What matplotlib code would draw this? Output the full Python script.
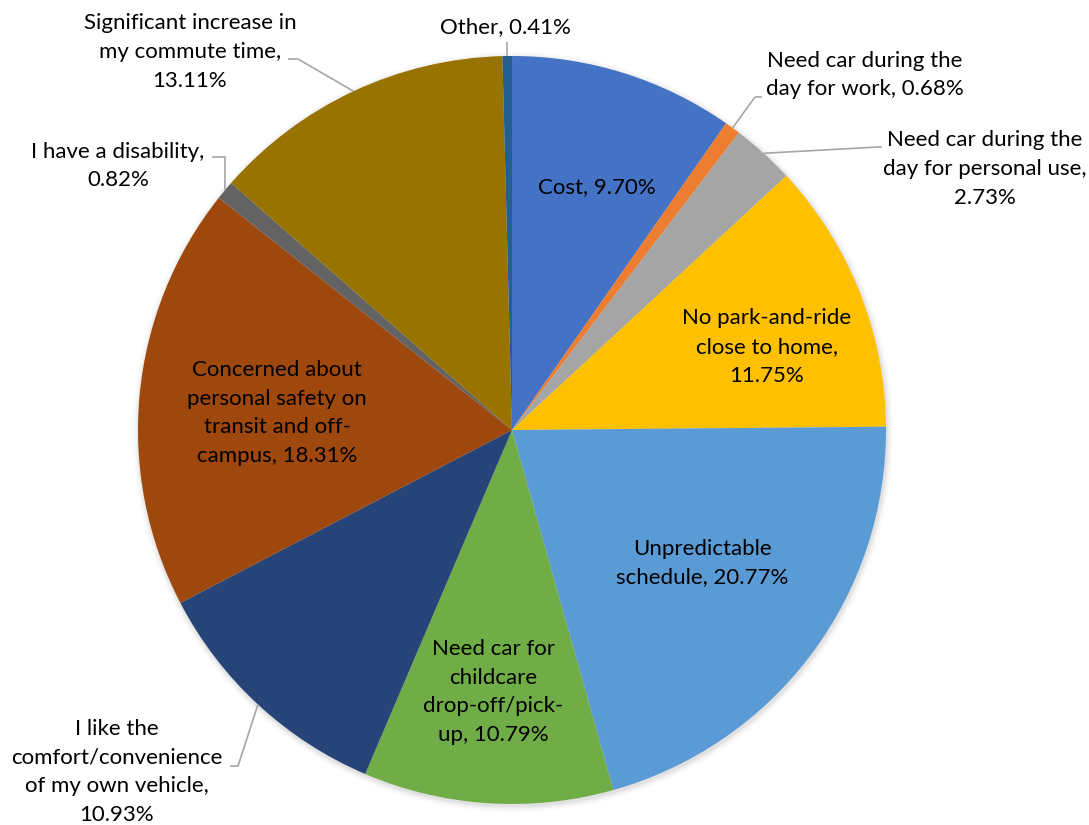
import numpy as np
import matplotlib
matplotlib.use("Agg")
import matplotlib.pyplot as plt

# Reasons for driving alone (share of responses, %)
categories = [
    "Cost",
    "Need car during the day for work",
    "Need car during the day for personal use",
    "No park-and-ride close to home",
    "Unpredictable schedule",
    "Need car for childcare drop-off/pick-up",
    "I like the comfort/convenience of my own vehicle",
    "Concerned about personal safety on transit and off-campus",
    "I have a disability",
    "Significant increase in my commute time",
    "Other",
]
values = [9.70, 0.68, 2.73, 11.75, 20.77, 10.79, 10.93, 18.31, 0.82, 13.11, 0.41]
label_texts = [
    "Cost, 9.70%",
    "Need car during the\nday for work, 0.68%",
    "Need car during the\nday for personal use,\n2.73%",
    "No park-and-ride\nclose to home,\n11.75%",
    "Unpredictable\nschedule, 20.77%",
    "Need car for\nchildcare\ndrop-off/pick-\nup, 10.79%",
    "I like the\ncomfort/convenience\nof my own vehicle,\n10.93%",
    "Concerned about\npersonal safety on\ntransit and off-\ncampus, 18.31%",
    "I have a disability,\n0.82%",
    "Significant increase in\nmy commute time,\n13.11%",
    "Other, 0.41%",
]
colors = ["#4472C4", "#ED7D31", "#A5A5A5", "#FFC000", "#5B9BD5", "#70AD47",
          "#264478", "#9E480E", "#636363", "#997300", "#255E91"]

W, H = 1089, 825
fig = plt.figure(figsize=(W / 100, H / 100), dpi=100)
ax = fig.add_axes([0, 0, 1, 1])

cx, cy, R = 512, 430, 374

# Soft drop shadow behind the pie
for i, a in enumerate(np.linspace(0.035, 0.005, 6)):
    ax.add_patch(plt.Circle((cx + 1, cy + 2), R + 1 + i * 1.2, color="black",
                            alpha=a, lw=0, zorder=0))

# Pie drawn in image coordinates (y grows downward): starting at -90 deg
# points to 12 o'clock, and counter-clockwise in data reads clockwise.
wedges, _ = ax.pie(values, colors=colors, startangle=-90, counterclock=True,
                   center=(cx, cy), radius=R, frame=True,
                   wedgeprops=dict(linewidth=0))
ax.set_xlim(0, W)
ax.set_ylim(H, 0)
ax.set_aspect("equal")
ax.axis("off")

font = dict(family=["Lato", "DejaVu Sans"], fontsize=16, color="black",
            linespacing=1.55)

cum = np.cumsum([0] + values[:-1])
mid_frac = [(c + v / 2) / 100 for c, v in zip(cum, values)]


def edge_point(frac, r=R):
    ang = 2 * np.pi * frac
    return cx + r * np.sin(ang), cy - r * np.cos(ang)


# Labels inside slices (index -> centre position)
inside = {0: (597, 187), 3: (767, 347), 4: (702, 563), 5: (493, 692), 7: (277, 413)}
for i, (x, y) in inside.items():
    ax.text(x, y, label_texts[i], ha="center", va="center", zorder=5, **font)

# Labels outside with leader lines: text centre, elbow point
outside = {
    10: ((505, 27), (507, 42)),
    1: ((865, 75), (762, 97)),
    2: ((985, 169), (882, 147)),
    9: ((190, 52), (290, 59)),
    8: ((118, 166), (212, 157)),
    6: ((117, 772), (238, 766)),
}
for i, ((tx, ty), (ex, ey)) in outside.items():
    ax.text(tx, ty, label_texts[i], ha="center", va="center", zorder=5, **font)
    px, py = edge_point(mid_frac[i])
    if i == 10:
        xs, ys = [px, px], [ey, py]
    elif i == 1:
        xs, ys = [ex, ex - 7, px], [ey, ey, py]
    elif i == 2:
        xs, ys = [ex, ex - 4, px], [ey, ey, py]
    elif i == 9:
        xs, ys = [ex - 2, ex + 8, px], [ey, ey, py]
    elif i == 8:
        xs, ys = [ex, ex + 13, px], [ey, ey, py]
    else:
        xs, ys = [ex - 8, ex, px], [ey, ey, py]
    ax.plot(xs, ys, color="#A6A6A6", lw=1.2, zorder=4, solid_capstyle="butt")

fig.savefig("out.png", dpi=100, facecolor="white")
